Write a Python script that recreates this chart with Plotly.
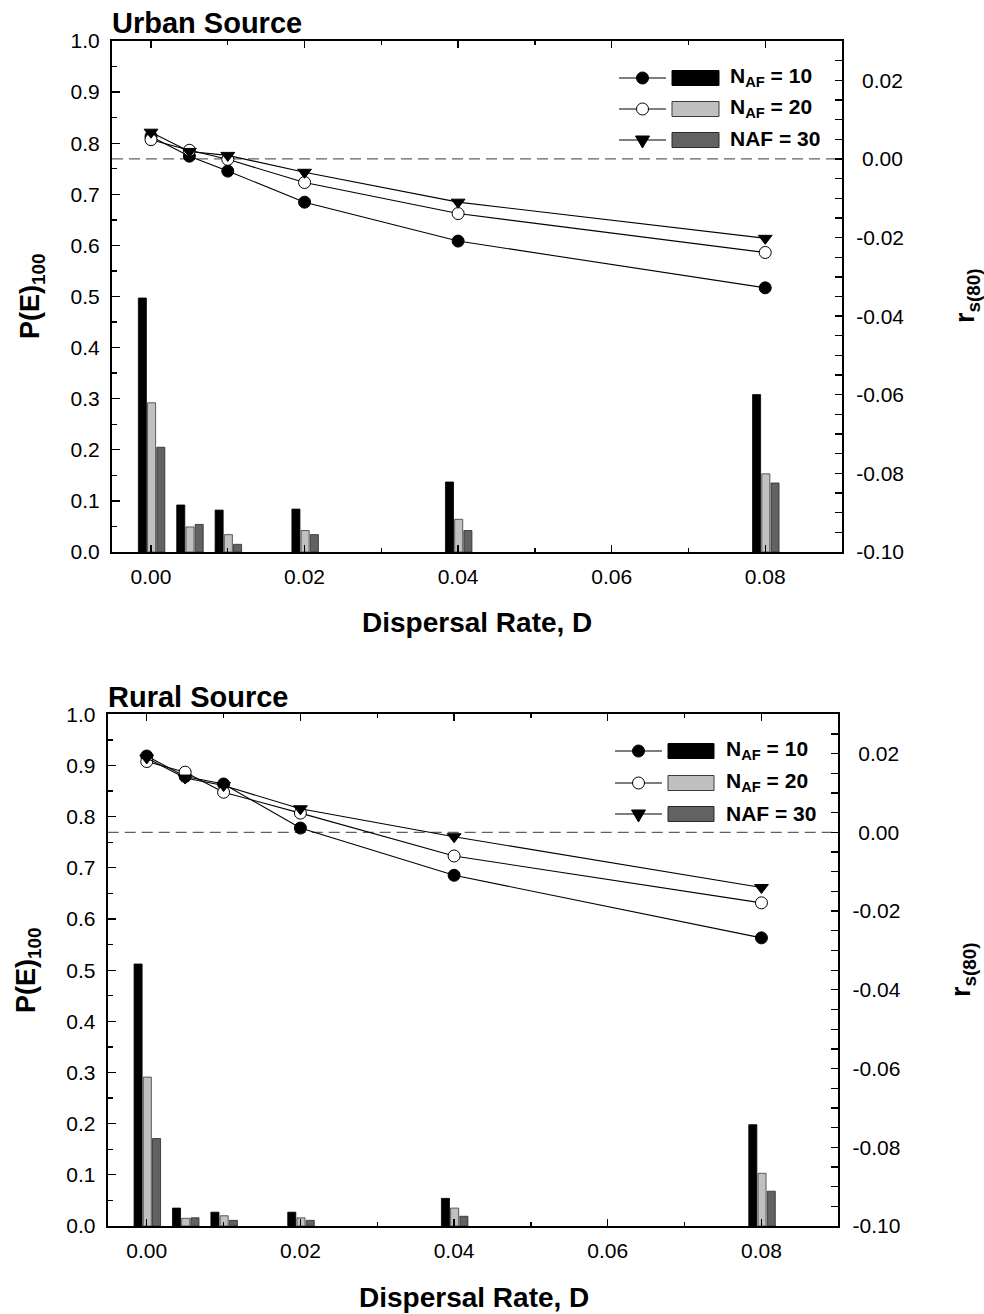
import plotly.graph_objects as go

# ---------------- data ----------------
D = [0.0, 0.005, 0.01, 0.02, 0.04, 0.08]

x_tickvals = [0.0, 0.02, 0.04, 0.06, 0.08]
x_ticktext = ["0.00", "0.02", "0.04", "0.06", "0.08"]
pe_tickvals = [0.0, 0.1, 0.2, 0.3, 0.4, 0.5, 0.6, 0.7, 0.8, 0.9, 1.0]
pe_ticktext = ["0.0", "0.1", "0.2", "0.3", "0.4", "0.5", "0.6", "0.7", "0.8", "0.9", "1.0"]
rs_tickvals = [0.02, 0.0, -0.02, -0.04, -0.06, -0.08, -0.10]
rs_ticktext = ["\u00a00.02", "\u00a00.00", "-0.02", "-0.04", "-0.06", "-0.08", "-0.10"]

series_names = ["N<sub>AF</sub> = 10", "N<sub>AF</sub> = 20", "NAF = 30"]

urban_pe_10 = [0.497, 0.092, 0.082, 0.084, 0.137, 0.308]
urban_pe_20 = [0.292, 0.049, 0.034, 0.042, 0.064, 0.153]
urban_pe_30 = [0.205, 0.054, 0.015, 0.034, 0.042, 0.135]
urban_rs_10 = [0.0057, 0.0007, -0.0031, -0.0110, -0.0209, -0.0328]
urban_rs_20 = [0.0049, 0.0022, -0.0001, -0.0060, -0.0139, -0.0238]
urban_rs_30 = [0.0068, 0.0019, 0.0009, -0.0034, -0.0110, -0.0202]

rural_pe_10 = [0.512, 0.035, 0.027, 0.027, 0.054, 0.198]
rural_pe_20 = [0.291, 0.015, 0.020, 0.016, 0.035, 0.103]
rural_pe_30 = [0.171, 0.016, 0.011, 0.011, 0.019, 0.068]
rural_rs_10 = [0.0194, 0.0142, 0.0123, 0.0011, -0.0109, -0.0268]
rural_rs_20 = [0.0180, 0.0153, 0.0102, 0.0049, -0.0060, -0.0179]
rural_rs_30 = [0.0189, 0.0138, 0.0119, 0.0060, -0.0011, -0.0140]

# ---------------- styling ----------------
W, H = 984, 1314
FONT = "Liberation Sans, Arial, sans-serif"
BAR_COLORS = ["#000000", "#c0c0c0", "#626262"]
BAR_LINES = ["#000000", "#3a3a3a", "#2a2a2a"]
BAR_WIDTH = 0.00105
BAR_OFFSETS = [-0.00165, -0.00045, 0.00075]
MARKERS = [
    dict(symbol="circle", size=12, color="#000000", line=dict(color="#000000", width=1)),
    dict(symbol="circle", size=12, color="#ffffff", line=dict(color="#000000", width=1)),
    dict(symbol="triangle-down", size=12, color="#000000", line=dict(color="#000000", width=1)),
]
X_RANGE = [-0.00508, 0.0900]


def px(x):
    return x / W


def py(y):
    return 1 - y / H


panels = [
    dict(title="Urban Source", pe=[urban_pe_10, urban_pe_20, urban_pe_30],
         rs=[urban_rs_10, urban_rs_20, urban_rs_30],
         box=(112, 842, 41, 552), title_y=23, xt_y=623, xt_x=477,
         yl=(32, 296), yr=(967, 296),
         leg=dict(l0=619, l1=666, r0=672, r1=719, tx=728, rows=[78, 109, 140])),
    dict(title="Rural Source", pe=[rural_pe_10, rural_pe_20, rural_pe_30],
         rs=[rural_rs_10, rural_rs_20, rural_rs_30],
         box=(107.7, 838.3, 714.3, 1226), title_y=697, xt_y=1297, xt_x=474,
         yl=(28, 970), yr=(963, 970),
         leg=dict(l0=615, l1=662, r0=668, r1=714, tx=724, rows=[751, 783, 814])),
]

fig = go.Figure()
shapes = []
annotations = []
layout = dict(
    width=W, height=H, autosize=False,
    margin=dict(l=0, r=0, t=0, b=0, pad=0, autoexpand=False),
    paper_bgcolor="white", plot_bgcolor="white",
    font=dict(family=FONT, size=21, color="black"),
    showlegend=False, barmode="overlay",
)

for i, p in enumerate(panels):
    xa = "x" if i == 0 else "x2"
    ya_left = "y" if i == 0 else "y3"
    ya_right = "y2" if i == 0 else "y4"
    x0, x1, y0, y1 = p["box"]

    for k in range(3):
        fig.add_trace(go.Bar(
            x=D, y=p["pe"][k], xaxis=xa, yaxis=ya_left,
            width=BAR_WIDTH, offset=BAR_OFFSETS[k],
            marker=dict(color=BAR_COLORS[k], line=dict(color=BAR_LINES[k], width=0.8)),
            name=series_names[k],
        ))
    for k in range(3):
        fig.add_trace(go.Scatter(
            x=D, y=p["rs"][k], xaxis=xa, yaxis=ya_right,
            mode="lines+markers", line=dict(color="black", width=1.1),
            marker=MARKERS[k], name=series_names[k],
        ))

    xkey = "xaxis" if i == 0 else "xaxis2"
    ylkey = "yaxis" if i == 0 else "yaxis3"
    yrkey = "yaxis2" if i == 0 else "yaxis4"

    layout[xkey] = dict(
        domain=[px(x0), px(x1)], anchor=ya_left, range=X_RANGE,
        tickmode="array", tickvals=x_tickvals, ticktext=x_ticktext,
        ticks="inside", ticklen=7, tickwidth=1.3, tickcolor="black",
        minor=dict(tickmode="linear", tick0=0.01, dtick=0.02, ticks="inside",
                   ticklen=4, tickwidth=1.3, tickcolor="black"),
        showline=True, linecolor="black", linewidth=2, mirror="ticks",
        showgrid=False, zeroline=False, ticklabelstandoff=5,
        tickfont=dict(size=21, family=FONT), automargin=False,
    )
    layout[ylkey] = dict(
        domain=[py(y1), py(y0)], anchor=xa, range=[0, 1],
        tickmode="array", tickvals=pe_tickvals, ticktext=pe_ticktext,
        ticks="inside", ticklen=8, tickwidth=1.3, tickcolor="black",
        minor=dict(tickmode="linear", tick0=0.05, dtick=0.1, ticks="inside",
                   ticklen=5, tickwidth=1.3, tickcolor="black"),
        showline=True, linecolor="black", linewidth=2,
        showgrid=False, zeroline=False, ticklabelstandoff=6,
        tickfont=dict(size=21, family=FONT), automargin=False,
    )
    layout[yrkey] = dict(
        overlaying=ya_left, side="right", anchor=xa, range=[-0.10, 0.03],
        tickmode="array", tickvals=rs_tickvals, ticktext=rs_ticktext,
        ticks="inside", ticklen=7, tickwidth=1.3, tickcolor="black",
        minor=dict(tickmode="linear", tick0=0.0, dtick=0.005, ticks="inside",
                   ticklen=7, tickwidth=1.3, tickcolor="black"),
        showline=True, linecolor="black", linewidth=2,
        showgrid=False, zeroline=False, ticklabelstandoff=8,
        tickfont=dict(size=21, family=FONT), automargin=False,
    )

    # dashed zero line of r_s
    shapes.append(dict(type="line", xref=xa, yref=ya_right, x0=X_RANGE[0], x1=X_RANGE[1],
                       y0=0, y1=0, layer="below",
                       line=dict(color="#606060", width=1.2, dash="11px,6px")))

    # panel title
    annotations.append(dict(text="<b>%s</b>" % p["title"], xref="paper", yref="paper",
                            x=px(x0 - 2), y=py(p["title_y"]), xanchor="left", yanchor="middle",
                            showarrow=False, font=dict(size=29, family=FONT)))
    # axis titles
    annotations.append(dict(text="<b>Dispersal Rate, D</b>", xref="paper", yref="paper",
                            x=px(p["xt_x"]), y=py(p["xt_y"]), xanchor="center", yanchor="middle",
                            showarrow=False, font=dict(size=28, family=FONT)))
    annotations.append(dict(text="<b>P(E)<sub>100</sub></b>", xref="paper", yref="paper",
                            x=px(p["yl"][0]), y=py(p["yl"][1]), xanchor="center", yanchor="middle",
                            textangle=-90, showarrow=False, font=dict(size=27, family=FONT)))
    annotations.append(dict(text="<b>r<sub>s(80)</sub></b>", xref="paper", yref="paper",
                            x=px(p["yr"][0]), y=py(p["yr"][1]), xanchor="center", yanchor="middle",
                            textangle=-90, showarrow=False, font=dict(size=27, family=FONT)))

    # custom legend
    lg = p["leg"]
    r = 6
    for k, yy in enumerate(lg["rows"]):
        shapes.append(dict(type="line", xref="paper", yref="paper",
                           x0=px(lg["l0"]), x1=px(lg["l1"]), y0=py(yy), y1=py(yy),
                           line=dict(color="black", width=1.1)))
        cx = (lg["l0"] + lg["l1"]) / 2
        if k < 2:
            shapes.append(dict(type="circle", xref="paper", yref="paper",
                               x0=px(cx - r), x1=px(cx + r), y0=py(yy + r), y1=py(yy - r),
                               fillcolor="black" if k == 0 else "white",
                               line=dict(color="black", width=1)))
        else:
            path = "M %f,%f L %f,%f L %f,%f Z" % (
                px(cx - 7), py(yy - 4), px(cx + 7), py(yy - 4), px(cx), py(yy + 8))
            shapes.append(dict(type="path", xref="paper", yref="paper", path=path,
                               fillcolor="black", line=dict(color="black", width=1)))
        shapes.append(dict(type="rect", xref="paper", yref="paper",
                           x0=px(lg["r0"]), x1=px(lg["r1"]), y0=py(yy + 7.5), y1=py(yy - 7.5),
                           fillcolor=BAR_COLORS[k], line=dict(color=BAR_LINES[k], width=1)))
        annotations.append(dict(text="<b>%s</b>" % series_names[k], xref="paper", yref="paper",
                                x=px(lg["tx"]), y=py(yy - 1), xanchor="left", yanchor="middle",
                                showarrow=False, font=dict(size=21, family=FONT)))

layout["shapes"] = shapes
layout["annotations"] = annotations
fig.update_layout(**layout)
fig.write_html("out.html",
               config={"displayModeBar": False, "staticPlot": True},
               post_script="document.body.style.margin='0px';document.body.style.padding='0px';")
